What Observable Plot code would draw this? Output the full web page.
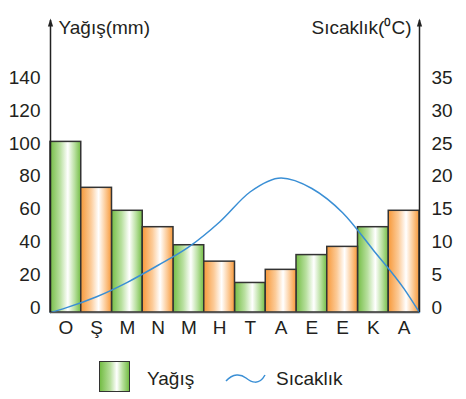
<!DOCTYPE html>
<html><head><meta charset="utf-8">
<script src="https://cdn.jsdelivr.net/npm/d3@7"></script>
<script src="https://cdn.jsdelivr.net/npm/@observablehq/plot@0.6"></script>
<style>
body{margin:0;background:#fff;font-family:"Liberation Sans",Arial,sans-serif;color:#231f20;}
#legend{position:relative;height:51px;width:466px;font-size:19px;}
#legend .sw{position:absolute;left:99px;top:13px;width:29px;height:29px;border:1.5px solid #333;
 background:linear-gradient(to right,#74bd45 0%,#b7df9c 35%,#ffffff 58%,#b7df9c 78%,#74bd45 100%);}
#legend .t1{position:absolute;left:147px;top:20px;}
#legend .wave{position:absolute;left:226px;top:370px;}
#legend .t2{position:absolute;left:276px;top:20px;}
</style></head><body>
<div id="chart"></div>
<div id="legend"></div>
<script>
const months = ["O","Ş","M","N","M","H","T","A","E","E","K","A"];
const rainfall = [104,76,62,52,41,31,18,26,35,40,52,62];
const temperature = [0.7,2.4,4.6,7.2,10.0,13.8,18.4,20.5,18.9,15.2,9.5,3.6];
const tempStart = 0, tempEnd = 0;
const rainTicks = [0,20,40,60,80,100,120,140];
const tempTicks = [0,5,10,15,20,25,30,35];
const leftTitle = "Yağış(mm)";
const rightTitle = "Sıcaklık(⁰C)";
const legendLabels = ["Yağış","Sıcaklık"];

const ratio = rainTicks[rainTicks.length-1] / tempTicks[tempTicks.length-1];
const yMax = 178;
const bars = months.map((m,i)=>({i, m, rain: rainfall[i]}));
const tempData = [{x:-0.5, t:tempStart}, ...temperature.map((t,i)=>({x:i, t})), {x:months.length-0.5, t:tempEnd}];

const arrowHead = {draw(ctx, size){ ctx.moveTo(0,-4); ctx.lineTo(2.6,4); ctx.lineTo(-2.6,4); ctx.closePath(); }};

const fs = "19px";
const chart = Plot.plot({
  width: 466, height: 348,
  marginLeft: 50, marginRight: 47, marginTop: 20, marginBottom: 36,
  style: {fontFamily: "'Liberation Sans', Arial, sans-serif", fontSize: fs, color: "#231f20", background: "#fff"},
  x: {type: "linear", domain: [-0.5, months.length-0.5]},
  y: {domain: [0, yMax]},
  marks: [
    Plot.rect(bars.filter(d=>d.i%2===0), {x1: d=>d.i-0.5, x2: d=>d.i+0.5, y1: 0, y2: "rain", fill: "url(#gGreen)", stroke: "#333", strokeWidth: 1.5}),
    Plot.rect(bars.filter(d=>d.i%2===1), {x1: d=>d.i-0.5, x2: d=>d.i+0.5, y1: 0, y2: "rain", fill: "url(#gOrange)", stroke: "#333", strokeWidth: 1.5}),
    Plot.line(tempData, {x: "x", y: d=>d.t*ratio, curve: "monotone-x", stroke: "#3a8fd5", strokeWidth: 1.5}),
    Plot.ruleY([0], {stroke: "#555", strokeWidth: 1.5}),
    Plot.ruleX([-0.5, months.length-0.5], {stroke: "#222", strokeWidth: 1.5}),
    Plot.dot([-0.5, months.length-0.5], {x: d=>d, y: yMax, symbol: arrowHead, fill: "#222", stroke: "none", dy: 2}),
    Plot.axisY(rainTicks, {anchor: "left", tickSize: 0, tickPadding: 10, dy: -5, fontSize: fs, label: null}),
    Plot.axisY(tempTicks.map(t=>t*ratio), {anchor: "right", tickSize: 0, tickPadding: 12, dy: -5, tickFormat: d=>d/ratio, fontSize: fs, label: null}),
    Plot.axisX(d3.range(months.length), {anchor: "bottom", tickSize: 0, tickPadding: 8, tickFormat: i=>months[i], fontSize: fs, label: null}),
    Plot.text([leftTitle], {frameAnchor: "top-left", text: d=>d, textAnchor: "start", lineAnchor: "top", dx: 8, fontSize: fs}),
    Plot.text([rightTitle], {frameAnchor: "top-right", text: d=>d, textAnchor: "end", lineAnchor: "top", dx: -8, fontSize: fs})
  ]
});
const defs = d3.select(chart).insert("defs", ":first-child");
function grad(id, c, l){
  const g = defs.append("linearGradient").attr("id", id).attr("x1","0").attr("x2","1").attr("y1","0").attr("y2","0");
  [[0,c],[0.33,l],[0.58,"#ffffff"],[0.8,l],[1,c]].forEach(([o,col])=>g.append("stop").attr("offset",o).attr("stop-color",col));
}
grad("gGreen", "#74bd45", "#b9e0a0");
grad("gOrange", "#f7993a", "#fccb98");
document.getElementById("chart").appendChild(chart);

const lg = d3.select("#legend");
lg.append("div").attr("class","sw");
lg.append("div").attr("class","t1").text(legendLabels[0]);
const ws = lg.append("svg").attr("width",42).attr("height",14).style("position","absolute").style("left","225px").style("top","24px");
ws.append("path").attr("d","M1,9 C8,1 16,2 21,6 C26,10 34,14 40,3").attr("fill","none").attr("stroke","#3a8fd5").attr("stroke-width",1.5);
lg.append("div").attr("class","t2").text(legendLabels[1]);
</script>
</body></html>
